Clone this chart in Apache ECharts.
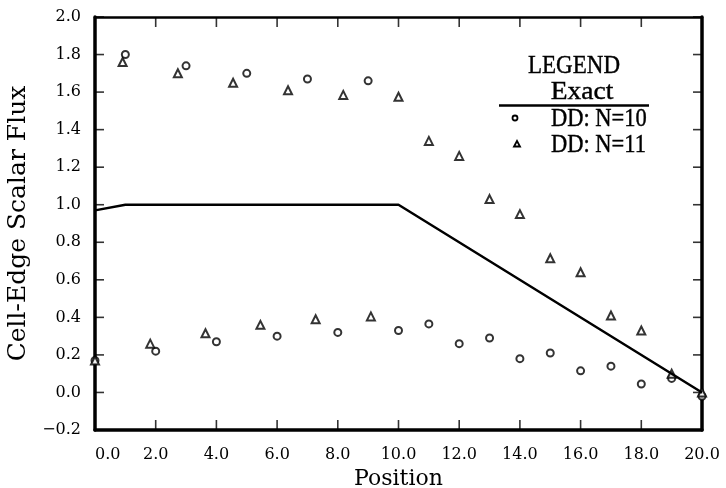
<!DOCTYPE html>
<html>
<head>
<meta charset="utf-8">
<script src="https://cdn.jsdelivr.net/npm/echarts@6/dist/echarts.min.js"></script>
<style>
    html, body {
        margin: 0;
        padding: 0;
        background: #fff;
    }
    #chart {
        width: 726px;
        height: 488px;
    }
</style>
</head>
<body>
<div id="chart"></div>
<script>
// tick values of both axes
const xTicks = [0, 2, 4, 6, 8, 10, 12, 14, 16, 18, 20];
const yTicks = [-0.2, 0, 0.2, 0.4, 0.6, 0.8, 1.0, 1.2, 1.4, 1.6, 1.8, 2.0];

// exact solution (piecewise line)
const exactX = [0, 1, 10, 20];
const exactY = [0.97, 1.0, 1.0, 0.0];

// DD: N=10 (circles)
const n10X = [0, 1, 2, 3, 4, 5, 6, 7, 8, 9, 10, 11, 12, 13, 14, 15, 16, 17, 18, 19, 20];
const n10Y = [0.17, 1.80, 0.22, 1.74, 0.27, 1.70, 0.30, 1.67, 0.32, 1.66, 0.33,
    0.365, 0.26, 0.29, 0.18, 0.21, 0.115, 0.14, 0.045, 0.075, -0.02];

// DD: N=11 (triangles)
const n11X = [0, 0.91, 1.82, 2.73, 3.64, 4.55, 5.45, 6.36, 7.27, 8.18, 9.09, 10,
    11, 12, 13, 14, 15, 16, 17, 18, 19, 20];
const n11Y = [0.17, 1.76, 0.26, 1.70, 0.315, 1.65, 0.36, 1.61, 0.39, 1.585, 0.405, 1.575,
    1.34, 1.26, 1.03, 0.95, 0.715, 0.64, 0.41, 0.33, 0.10, 0.0];

const pairs = (xs, ys) => xs.map((x, i) => [x, ys[i]]);

const tickFont = {
    fontFamily: 'DejaVu Serif',
    fontSize: 16,
    color: '#000',
};

const xMin = xTicks[0];
const xMax = xTicks[xTicks.length - 1];
const xStep = xTicks[1] - xTicks[0];
const yMin = yTicks[0];
const yMax = yTicks[yTicks.length - 1];
const yStep = 0.2;

const fmt = (v) => v.toFixed(1).replace('-', '\u2212');

const frameLine = (w) => ({ show: true, onZero: false, lineStyle: { color: '#000', width: w } });

// inward frame ticks, drawn as thin rect symbols at the tick values
const TICK_X = 10;
const TICK_Y = 9;
const TW = 1.6;
const tickSeries = (data, size, offset) => ({
    type: 'scatter',
    silent: true,
    clip: false,
    z: 5,
    data: data,
    symbol: 'rect',
    symbolSize: size,
    symbolOffset: offset,
    itemStyle: { color: '#000' },
});

// legend drawn the way the original plot package did it
const legendText = (text, x, y, align, sx) => ({
    type: 'text',
    x: x,
    y: y,
    scaleX: sx,
    style: {
        text: text,
        font: '25px "Liberation Serif"',
        fill: '#000',
        stroke: '#000',
        lineWidth: 0.4,
        align: align,
        verticalAlign: 'middle',
    },
});
const legendGraphic = [
    legendText('LEGEND', 574, 66, 'center', 0.92),
    legendText('Exact', 582, 92, 'center', 1.1),
    {
        type: 'line',
        shape: { x1: 499, y1: 105.5, x2: 649, y2: 105.5 },
        style: { stroke: '#000', lineWidth: 2.5 },
    },
    {
        type: 'circle',
        shape: { cx: 515, cy: 118, r: 2.5 },
        style: { fill: '#fff', stroke: '#000', lineWidth: 1.8 },
    },
    legendText('DD: N=10', 551, 119, 'left', 0.9),
    {
        type: 'polygon',
        shape: { points: [[517, 141], [520, 146.5], [514, 146.5]] },
        style: { fill: '#fff', stroke: '#000', lineWidth: 1.8 },
    },
    legendText('DD: N=11', 551, 145, 'left', 0.9),
];

const chart = echarts.init(document.getElementById('chart'));

const option = {
    animation: false,
    backgroundColor: '#fff',
    grid: {
        left: 95,
        right: 24,
        top: 17,
        bottom: 58,
        containLabel: false,
        outerBoundsMode: 'none',
    },
    xAxis: [
        {
            type: 'value',
            position: 'bottom',
            min: xMin,
            max: xMax,
            interval: xStep,
            name: 'Position',
            nameLocation: 'middle',
            nameGap: 38,
            nameTextStyle: {
                fontFamily: 'DejaVu Serif',
                fontSize: 22,
                color: '#000',
            },
            axisLine: frameLine(3.5),
            axisTick: { show: false },
            axisLabel: Object.assign({ margin: 17, formatter: fmt, alignMinLabel: 'left' }, tickFont),
            splitLine: { show: false },
        },
        {
            // top frame
            type: 'value',
            position: 'top',
            min: xMin,
            max: xMax,
            interval: xStep,
            axisLine: frameLine(2.5),
            axisTick: { show: false },
            axisLabel: { show: false },
            splitLine: { show: false },
        },
    ],
    yAxis: [
        {
            type: 'value',
            position: 'left',
            min: yMin,
            max: yMax,
            interval: yStep,
            name: 'Cell-Edge Scalar Flux',
            nameLocation: 'middle',
            nameGap: 56,
            nameTextStyle: {
                fontFamily: 'DejaVu Serif',
                fontSize: 25,
                color: '#000',
            },
            axisLine: frameLine(3.5),
            axisTick: { show: false },
            axisLabel: Object.assign({ margin: 14, formatter: fmt }, tickFont),
            splitLine: { show: false },
        },
        {
            // right frame
            type: 'value',
            position: 'right',
            min: yMin,
            max: yMax,
            interval: yStep,
            axisLine: frameLine(3.5),
            axisTick: { show: false },
            axisLabel: { show: false },
            splitLine: { show: false },
        },
    ],
    series: [
        {
            name: 'Exact',
            type: 'line',
            data: pairs(exactX, exactY),
            showSymbol: false,
            symbol: 'none',
            lineStyle: { color: '#000', width: 2.5 },
        },
        {
            name: 'DD: N=10',
            type: 'scatter',
            data: pairs(n10X, n10Y),
            symbol: 'emptyCircle',
            symbolSize: 7,
            clip: false,
            itemStyle: { color: '#000', borderColor: '#000', borderWidth: 2 },
        },
        {
            name: 'DD: N=11',
            type: 'scatter',
            data: pairs(n11X, n11Y),
            symbol: 'emptyTriangle',
            symbolSize: 8,
            clip: false,
            itemStyle: { color: '#000', borderColor: '#000', borderWidth: 2 },
        },
        // bottom, top, left, right ticks
        tickSeries(xTicks.map((v) => [v, yMin]), [TW, TICK_X], [0, -TICK_X / 2]),
        tickSeries(xTicks.map((v) => [v, yMax]), [TW, TICK_X], [0, TICK_X / 2]),
        tickSeries(yTicks.map((v) => [xMin, v]), [TICK_Y, TW], [TICK_Y / 2, 0]),
        tickSeries(yTicks.map((v) => [xMax, v]), [TICK_Y, TW], [-TICK_Y / 2, 0]),
    ],
    graphic: legendGraphic,
};

chart.setOption(option);
</script>
</body>
</html>
